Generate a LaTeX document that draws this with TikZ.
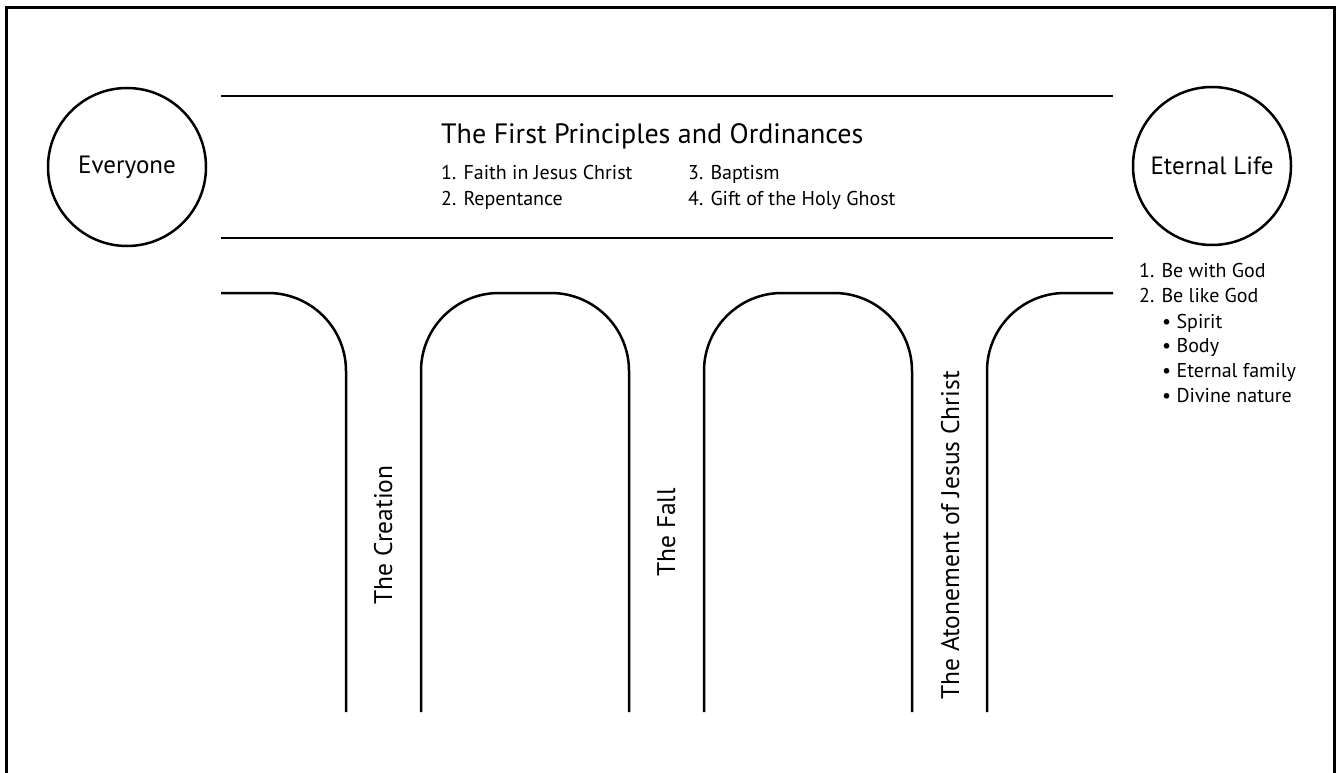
\documentclass[tikz,border=0pt]{standalone}
\usepackage{fontspec}
\setmainfont{PT Sans}
\begin{document}
\begin{tikzpicture}[x=1pt,y=-1pt,
  frame/.style={line width=3pt},
  lineart/.style={line width=2.5pt},
  arch/.style={line width=2.5pt,rounded corners=78pt},
  ring/.style={circle,draw,line width=2.5pt,minimum size=158pt,inner sep=0pt,font=\fontsize{25}{30}\selectfont},
  title/.style={anchor=base west,inner sep=0pt,font=\fontsize{28}{33}\selectfont},
  item/.style={anchor=base west,inner sep=0pt,font=\fontsize{20}{24}\selectfont},
  pillar/.style={anchor=base west,inner sep=0pt,rotate=90,font=\fontsize{25.5}{30}\selectfont}]
\useasboundingbox (0,0) rectangle (1339,773);
\fill[white] (0,0) rectangle (1339,773);
% frame (open at the bottom)
\draw[frame] (6,773) -- (6,8) -- (1334,8) -- (1334,773);
% circles
\node[ring] (everyone) at (127,167) {Everyone};
\node[ring] (eternal) at (1212,166) {Eternal Life};
% path band
\coordinate (bandTL) at (221,96);
\coordinate (bandTR) at (1113,96);
\coordinate (bandBL) at (221,238);
\coordinate (bandBR) at (1113,238);
\draw[lineart] (bandTL) -- (bandTR);
\draw[lineart] (bandBL) -- (bandBR);
\node[title] (principles) at (441,144) {The First Principles and Ordinances};
\node[item] (faith) at (441,179) {1. Faith in Jesus Christ};
\node[item] (repent) at (441,205) {2. Repentance};
\node[item] (baptism) at (688,179) {3. Baptism};
\node[item] (ghost) at (688,205) {4. Gift of the Holy Ghost};
% pillars / arches
\draw[arch] (221,293) -- (346,293) -- (346,712);
\draw[arch] (421,712) -- (421,293) -- (629,293) -- (629,712);
\draw[arch] (704,712) -- (704,293) -- (912,293) -- (912,712);
\draw[arch] (987,712) -- (987,293) -- (1113,293);
% pillar labels
\node[pillar] (creation) at (392,605) {The Creation};
\node[pillar] (fall) at (675,577) {The Fall};
\node[pillar] (atonement) at (959,700) {The Atonement of Jesus Christ};
% eternal life list
\node[item] (l1) at (1139,277) {1. Be with God};
\node[item] (l2) at (1139,302) {2. Be like God};
\node[item] (l3) at (1162,328) {• Spirit};
\node[item] (l4) at (1162,352) {• Body};
\node[item] (l5) at (1162,377) {• Eternal family};
\node[item] (l6) at (1162,402) {• Divine nature};
\end{tikzpicture}
\end{document}
